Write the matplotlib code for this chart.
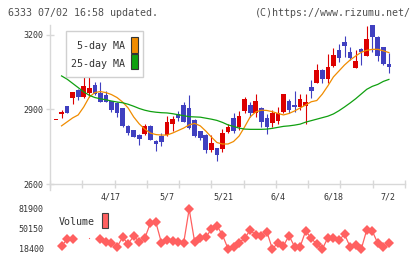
import numpy as np
import matplotlib as mpl
mpl.use("Agg")
import matplotlib.pyplot as plt
from matplotlib.patches import Rectangle

mpl.rcParams['font.family'] = 'DejaVu Sans Mono'

# ---- data ----
opens = [2857, 2881, 2914, 2947, 2979, 2951, 2968, 2999, 2968, 2960,
         2933, 2927, 2904, 2834, 2817, 2797, 2800, 2834, 2774, 2793,
         2797, 2840, 2882, 2918, 2905, 2858, 2813, 2797, 2737, 2744,
         2741, 2811, 2865, 2831, 2895, 2918, 2887, 2905, 2865, 2847,
         2855, 2891, 2934, 2918, 2909, 2915, 2992, 3008, 3059, 3023,
         3075, 3140, 3172, 3130, 3068, 3144, 3117, 3238, 3193, 3150,
         3085]
closes = [2857, 2889, 2884, 2969, 2952, 2994, 2985, 2963, 2931, 2931,
          2896, 2887, 2834, 2807, 2791, 2781, 2834, 2778, 2760, 2770,
          2851, 2862, 2866, 2851, 2824, 2795, 2785, 2737, 2764, 2717,
          2804, 2831, 2813, 2874, 2942, 2887, 2934, 2851, 2828, 2887,
          2887, 2962, 2898, 2911, 2942, 2929, 2976, 3059, 3022, 3072,
          3119, 3109, 3156, 3109, 3095, 3133, 3184, 3190, 3117, 3082,
          3072]
highs = [2857, 2898, 2915, 2969, 2982, 3030, 3030, 3012, 3012, 2975,
         2935, 2930, 2906, 2836, 2818, 2800, 2840, 2836, 2776, 2805,
         2873, 2873, 2895, 2931, 2958, 2860, 2815, 2800, 2797, 2746,
         2820, 2840, 2887, 2894, 2952, 2929, 2962, 2908, 2881, 2898,
         2911, 2964, 2942, 2974, 2962, 2962, 3019, 3083, 3061, 3124,
         3146, 3164, 3196, 3150, 3140, 3146, 3234, 3240, 3197, 3152,
         3126]
lows = [2857, 2865, 2884, 2921, 2938, 2948, 2952, 2960, 2931, 2930,
        2891, 2871, 2831, 2797, 2789, 2757, 2797, 2776, 2733, 2753,
        2792, 2815, 2852, 2848, 2822, 2790, 2778, 2724, 2730, 2693,
        2730, 2804, 2804, 2817, 2885, 2871, 2871, 2831, 2800, 2831,
        2840, 2885, 2885, 2891, 2898, 2840, 2948, 3005, 3005, 3005,
        3072, 3090, 3113, 3099, 3068, 3080, 3115, 3133, 3096, 3078,
        3046]
nan = np.nan
ma5 = [nan, 2834, 2850, 2866, 2878, 2910, 2950, 2968, 2972, 2968,
       2960, 2948, 2930, 2906, 2870, 2842, 2821, 2805, 2799, 2797,
       2797, 2805, 2815, 2825, 2838, 2844, 2834, 2813, 2789, 2767,
       2761, 2761, 2771, 2793, 2830, 2870, 2890, 2897, 2896, 2891,
       2884, 2878, 2884, 2894, 2906, 2918, 2931, 2936, 2962, 2995,
       3031, 3055, 3079, 3099, 3115, 3130, 3138, 3142, 3142, 3136,
       3129]
ma25 = [nan, 3035, 3022, 3005, 2988, 2971, 2957, 2948, 2943, 2939,
        2934, 2930, 2927, 2921, 2913, 2904, 2897, 2892, 2889, 2887,
        2886, 2883, 2879, 2875, 2871, 2870, 2869, 2865, 2861, 2856,
        2848, 2838, 2832, 2825, 2821, 2820, 2820, 2820, 2821, 2824,
        2828, 2832, 2834, 2837, 2841, 2849, 2855, 2861, 2867, 2873,
        2882, 2895, 2910, 2926, 2943, 2962, 2981, 2993, 3001, 3013,
        3021]
volume = [nan, 23200, 33800, 34800, nan, nan, nan, nan, 33800, 30000,
          27400, 21600, 37000, 26300, 39000, 30000, 35400, 59200, 60800, 28400,
          32700, 31100, 30000, 27400, 81900, 29000, 35900, 37000, 49700, 55400,
          40600, 19000, 22050, 28400, 35400, 48560, 40600, 39000, 45900, 18400,
          28400, 23600, 39500, 22050, 22050, 47000, 35400, 25900, 18400, 36300,
          36300, 32700, 41700, 22050, 24750, 17900, 48560, 47000, 27400, 21100,
          28400]
# isolated volume value shown only as a single dot
lone_idx = 6
lone_vol = 36300
date_labels = ['4/17', '5/7', '5/21', '6/4', '6/18', '7/2']
date_idx = [9.8, 19.9, 30.1, 40, 50, 59.8]
price_ticks = [2600, 2900, 3200]
vol_ticks = [18400, 50150, 81900]

W, H = 420, 259
def box(x0, y0, x1, y1):
    return [x0 / W, 1 - y1 / H, (x1 - x0) / W, (y1 - y0) / H]

fig = plt.figure(figsize=(W / 100, H / 100), dpi=100)

# ---- main price chart ----
ax = fig.add_axes(box(50, 25, 405, 184))
n = len(opens)
x = np.arange(n)
o = np.array(opens); c = np.array(closes)
col = np.where(c >= o, '#dd0000', '#4040c0')
ax.vlines(x, lows, highs, colors=col, linewidth=0.8, zorder=2)
ax.bar(x, np.maximum(np.abs(c - o), 3), bottom=np.minimum(o, c), width=0.84,
       color=col, linewidth=0, zorder=3)
ax.plot(x, ma5, color='#f08c00', linewidth=0.9, zorder=4)
ax.plot(x, ma25, color='#10a010', linewidth=0.9, zorder=4)

xmin, xmax = -1.08, 62.9
ax.set_xlim(xmin, xmax)
ax.set_ylim(2600, 3240)
for s in ['top', 'right']:
    ax.spines[s].set_visible(False)
for s in ['left', 'bottom']:
    ax.spines[s].set_color('#d8d8d8')
    ax.spines[s].set_linewidth(1.0)
ax.spines['left'].set_bounds(2576, 3240)
ax.set_yticks(price_ticks)
ax.set_yticklabels([str(t) for t in price_ticks])
ax.set_xticks(np.linspace(xmin, xmax, 12))
ax.set_xticklabels([])
ax.set_xticks(date_idx, minor=True)
ax.set_xticklabels(date_labels, minor=True)
ax.tick_params(axis='both', which='major', direction='inout', length=6,
               color='#d8d8d8', width=1.0, labelsize=6, labelcolor='#333333', pad=2)
ax.tick_params(axis='x', which='minor', length=0, labelsize=6,
               labelcolor='#333333', pad=6)
ax.set_facecolor('none')

# legend box
fig.patches.append(Rectangle((65.7 / W, 1 - 77.3 / H), 77.6 / W, 46.6 / H,
                             transform=fig.transFigure, facecolor='white',
                             edgecolor='#d0d0d0', linewidth=1.0, zorder=5))
fig.patches.append(Rectangle((131 / W, 1 - 52.7 / H), 6.5 / W, 15.4 / H,
                             transform=fig.transFigure, facecolor='#f08c00',
                             edgecolor='#333333', linewidth=0.8, zorder=6))
fig.patches.append(Rectangle((131 / W, 1 - 69.3 / H), 6.5 / W, 15 / H,
                             transform=fig.transFigure, facecolor='#10a010',
                             edgecolor='#333333', linewidth=0.8, zorder=6))
fig.text(125 / W, 1 - 46 / H, '5-day MA', ha='right', va='center',
         fontsize=7.2, color='#333333', zorder=7)
fig.text(125 / W, 1 - 63.5 / H, '25-day MA', ha='right', va='center',
         fontsize=7.2, color='#333333', zorder=7)

# header
fig.text(8 / W, 1 - 12.5 / H, '6333 07/02 16:58 updated.', ha='left', va='center',
         fontsize=7.2, color='#505050')
fig.text(411 / W, 1 - 12.5 / H, '(C)https://www.rizumu.net/', ha='right', va='center',
         fontsize=7.2, color='#505050')

# ---- volume chart ----
av = fig.add_axes(box(50, 205, 405, 253))
av.plot(x, volume, color='#ff6060', linewidth=0.9, marker='D', markersize=5.2,
        markeredgewidth=0, clip_on=False)
av.plot([lone_idx], [lone_vol], linestyle='none', marker='s', markersize=0.8,
        color='#ff6060', markeredgewidth=0)
av.set_xlim(xmin, xmax)
av.set_ylim(18400 - 4 * 1587.5, 81900 + 4 * 1587.5)
for s in av.spines.values():
    s.set_visible(False)
av.set_xticks([])
av.set_yticks(vol_ticks)
av.set_yticklabels([str(t) for t in vol_ticks])
av.tick_params(axis='y', length=0, labelsize=6, labelcolor='#333333', pad=4.5)
av.set_facecolor('none')
fig.text(59 / W, 1 - 222 / H, 'Volume', ha='left', va='center',
         fontsize=7.2, color='#333333')
fig.patches.append(Rectangle((101.7 / W, 1 - 228.3 / H), 5.8 / W, 15 / H,
                             transform=fig.transFigure, facecolor='#ff6060',
                             edgecolor='#404040', linewidth=0.8))

fig.savefig('out.png', dpi=100)
